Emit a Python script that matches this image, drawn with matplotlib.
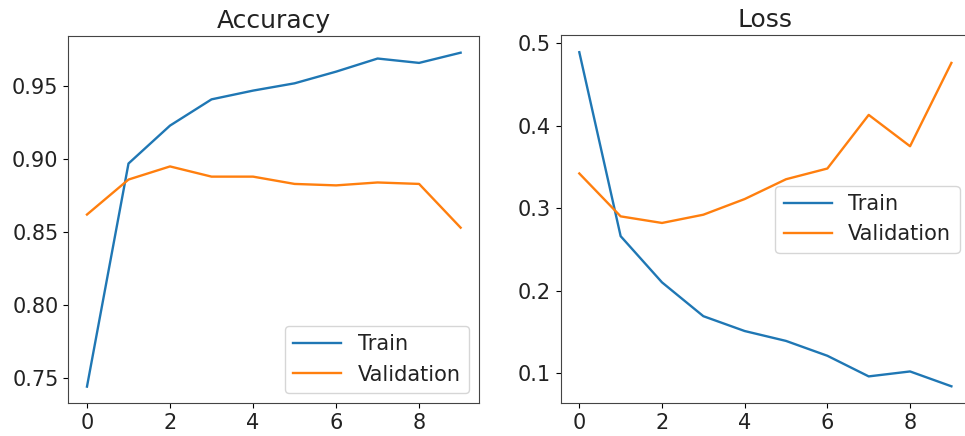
import numpy as np
import matplotlib
matplotlib.use("Agg")
import matplotlib.pyplot as plt
from matplotlib.ticker import MultipleLocator

plt.rcParams['font.size'] = 15
plt.rcParams['text.color'] = '#222222'
plt.rcParams['xtick.labelcolor'] = '#222222'
plt.rcParams['ytick.labelcolor'] = '#222222'

epochs = list(range(10))

train_acc = [0.744, 0.897, 0.923, 0.941, 0.947, 0.952, 0.960, 0.969, 0.966, 0.973]
val_acc = [0.862, 0.886, 0.895, 0.888, 0.888, 0.883, 0.882, 0.884, 0.883, 0.853]

train_loss = [0.489, 0.266, 0.210, 0.169, 0.151, 0.139, 0.121, 0.096, 0.102, 0.084]
val_loss = [0.342, 0.290, 0.282, 0.292, 0.311, 0.335, 0.348, 0.413, 0.375, 0.476]

fig = plt.figure(figsize=(9.65, 4.36), dpi=100)
W, H = 965, 436

# axes placed in pixel coords, right one runs past the image edge like the reference
ax1 = fig.add_axes([68.3 / W, 1 - 403.3 / H, (479.3 - 68.3) / W, (403.3 - 36) / H])
ax2 = fig.add_axes([560.7 / W, 1 - 403 / H, (970 - 560.7) / W, (403 - 35.5) / H])

ax1.plot(epochs, train_acc, label='Train', lw=1.7)
ax1.plot(epochs, val_acc, label='Validation', lw=1.7)
ax1.set_title('Accuracy')
ax1.legend(loc='lower right', handlelength=2.3)

ax2.plot(epochs, train_loss, label='Train', lw=1.7)
ax2.plot(epochs, val_loss, label='Validation', lw=1.7)
ax2.set_title('Loss')
ax2.yaxis.set_major_locator(MultipleLocator(0.1))
ax2.legend(loc='center right', handlelength=2.3)

for ax in (ax1, ax2):
    for s in ax.spines.values():
        s.set_edgecolor('#444444')

fig.savefig('out.png', dpi=100)
